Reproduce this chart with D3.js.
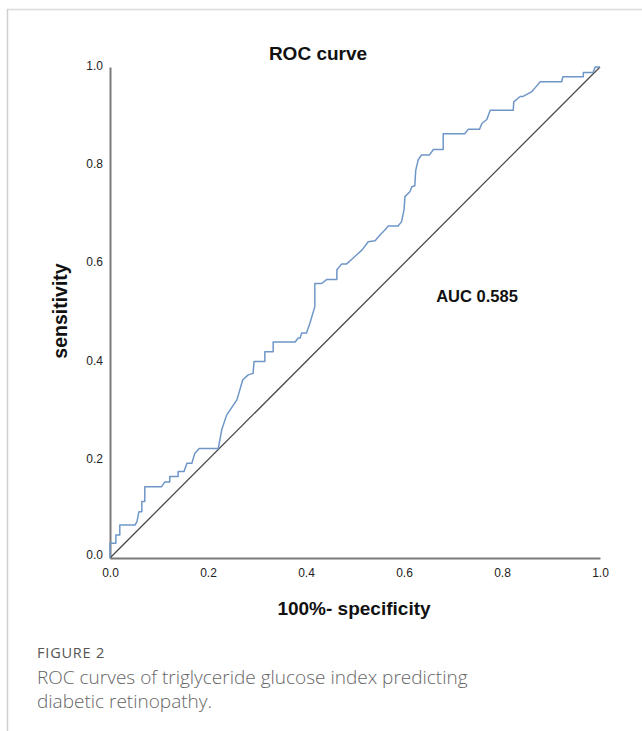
<!DOCTYPE html>
<html><head><meta charset="utf-8">
<script src="https://cdn.jsdelivr.net/npm/d3@7"></script>
<style>
html,body{margin:0;padding:0;background:#fff;}
svg{display:block;}
</style></head>
<body>
<script>
// ROC curve points: [1 - specificity, sensitivity]
const fpr = [0,0,0.012,0.012,0.020,0.020,0.051,0.055,0.059,0.065,0.065,0.071,0.071,0.105,0.112,0.122,0.122,0.139,0.139,0.151,0.157,0.167,0.173,0.182,0.221,0.228,0.238,0.259,0.271,0.282,0.292,0.294,0.316,0.316,0.333,0.333,0.378,0.384,0.388,0.391,0.401,0.408,0.418,0.418,0.432,0.442,0.463,0.463,0.473,0.483,0.493,0.503,0.514,0.527,0.541,0.551,0.561,0.568,0.588,0.595,0.600,0.602,0.612,0.616,0.622,0.624,0.629,0.636,0.652,0.660,0.680,0.680,0.724,0.731,0.754,0.759,0.769,0.776,0.823,0.824,0.837,0.843,0.861,0.867,0.878,0.922,0.924,0.966,0.966,0.986,0.990,1.0];
const tpr = [0,0.030,0.030,0.047,0.047,0.067,0.067,0.074,0.094,0.094,0.115,0.115,0.145,0.145,0.155,0.155,0.166,0.166,0.176,0.176,0.193,0.193,0.213,0.223,0.223,0.261,0.291,0.322,0.363,0.373,0.376,0.400,0.400,0.420,0.420,0.440,0.440,0.448,0.448,0.458,0.458,0.478,0.512,0.559,0.559,0.567,0.567,0.587,0.599,0.599,0.608,0.617,0.627,0.644,0.646,0.658,0.668,0.676,0.676,0.685,0.709,0.736,0.746,0.756,0.758,0.790,0.811,0.821,0.821,0.832,0.832,0.864,0.864,0.873,0.873,0.885,0.893,0.912,0.912,0.929,0.940,0.940,0.950,0.957,0.970,0.970,0.980,0.980,0.989,0.989,1.0,1.0];
const tickValues = [0, 0.2, 0.4, 0.6, 0.8, 1.0];
const refLine = [[0,0],[1,1]];
const titleText = "ROC curve";
const aucText = "AUC 0.585";
const xLabel = "100%- specificity";
const yLabel = "sensitivity";
const captionHead = "FIGURE 2";
const captionLines = ["ROC curves of triglyceride glucose index predicting", "diabetic retinopathy."];

const W = 642, H = 731;
const svg = d3.select("body").append("svg").attr("width", W).attr("height", H);

// frame
svg.append("line").attr("x1",7).attr("y1",9.5).attr("x2",W).attr("y2",9.5).attr("stroke","#dcdcdc").attr("stroke-width",1.5);
svg.append("line").attr("x1",7.5).attr("y1",9).attr("x2",7.5).attr("y2",H).attr("stroke","#d0d0d0").attr("stroke-width",1.5);

const x = d3.scaleLinear().domain([0,1]).range([110,600]);
const y = d3.scaleLinear().domain([0,1]).range([558,67]);

// axes (no tick marks)
const xAxis = d3.axisBottom(x).tickValues(tickValues).tickFormat(d3.format(".1f")).tickSize(0).tickPadding(10);
const yAxis = d3.axisLeft(y).tickValues(tickValues).tickFormat(d3.format(".1f")).tickSize(0).tickPadding(7);

const gx = svg.append("g").attr("transform","translate(0,558)").call(xAxis);
const gy = svg.append("g").attr("transform","translate(110,0)").call(yAxis);
[gx, gy].forEach(g => {
  g.select(".domain").attr("stroke","#7a7a7a").attr("stroke-width",2);
  g.selectAll("text").attr("font-family","'Liberation Sans', Arial, sans-serif").attr("font-size",12).attr("fill","#222");
});
gy.selectAll(".tick text").attr("dy","0.2em");
gy.selectAll(".tick").filter(d => d === 0).select("text").attr("dy","0.05em");

// reference diagonal
const line = d3.line().x(d => x(d[0])).y(d => y(d[1]));
svg.append("path").datum(refLine).attr("d", line).attr("fill","none").attr("stroke","#4a4a4a").attr("stroke-width",1.3);

// ROC curve
const pts = fpr.map((v,i) => [v, tpr[i]]);
svg.append("path").datum(pts).attr("d", line).attr("fill","none").attr("stroke","#6e97c8").attr("stroke-width",1.5).attr("stroke-linejoin","round");

const bold = "'Liberation Sans', Arial, sans-serif";
svg.append("text").attr("x",318).attr("y",60).attr("text-anchor","middle").attr("font-family",bold).attr("font-weight","bold").attr("font-size",19).attr("fill","#111").text(titleText);
svg.append("text").attr("x",477).attr("y",302).attr("text-anchor","middle").attr("font-family",bold).attr("font-weight","bold").attr("font-size",16.5).attr("fill","#111").text(aucText);
svg.append("text").attr("x",354).attr("y",615).attr("text-anchor","middle").attr("font-family",bold).attr("font-weight","bold").attr("font-size",19).attr("fill","#111").text(xLabel);
svg.append("text").attr("transform","translate(67,311) rotate(-90)").attr("text-anchor","middle").attr("font-family",bold).attr("font-weight","bold").attr("font-size",19.5).attr("fill","#111").text(yLabel);

// caption
svg.append("text").attr("x",37).attr("y",658).attr("font-family","'Open Sans', sans-serif").attr("font-size",14.5).attr("letter-spacing",0.8).attr("fill","#555").text(captionHead);
captionLines.forEach((t,i) => {
  svg.append("text").attr("x",37).attr("y",684 + i*24).attr("font-family","'Open Sans', sans-serif").attr("font-weight",300).attr("font-size",19).attr("fill","#666").text(t);
});
</script>
</body></html>
